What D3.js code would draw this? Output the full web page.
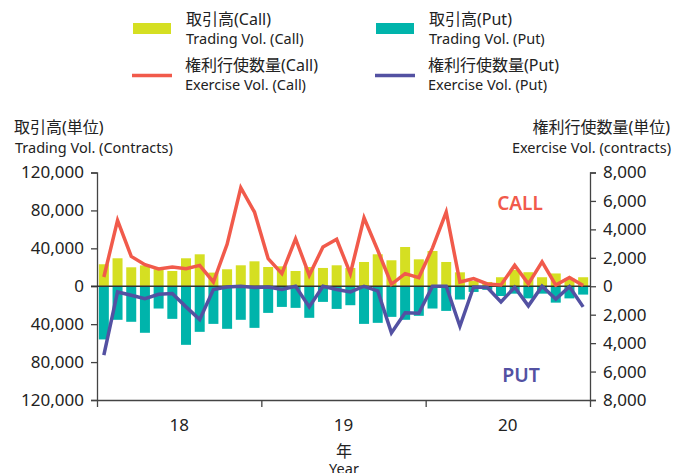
<!DOCTYPE html>
<html>
<head>
<meta charset="utf-8">
<script src="https://d3js.org/d3.v7.min.js"></script>
<style>
  body { margin: 0; background: #fff; }
  text { font-family: "Noto Sans", "Noto Sans CJK JP", sans-serif; fill: #222; }
</style>
</head>
<body>
<svg width="688" height="473"></svg>
<script>
// monthly data, Jan 2018 - Dec 2020
var months = [];
["2018", "2019", "2020"].forEach(function(y) {
  for (var m = 1; m <= 12; m++) months.push(y + "-" + (m < 10 ? "0" + m : m));
});
var years = ["18", "19", "20"];

var callVol = [23200, 29500, 20000, 22000, 18000, 16100, 29500, 33700, 14400, 17900, 22100, 26300,
  20300, 21000, 16100, 20300, 19300, 22100, 19300, 25600, 33700, 27400, 41400, 28400,
  37200, 25600, 14700, 5600, 4500, 9500, 17300, 14800, 9500, 13500, 8200, 9500];
var putVol = [56100, 35400, 37500, 49100, 23500, 34400, 61800, 48100, 39700, 44900, 35400, 43900,
  28100, 21800, 22800, 33300, 16500, 23900, 20000, 39700, 38600, 32300, 35400, 31200,
  23500, 26000, 14000, 6000, 3800, 10300, 7800, 12800, 7800, 17300, 12800, 8800];
var callEx = [650, 4630, 2100, 1520, 1220, 1360, 1240, 1470, 300, 2950, 6930, 5220,
  1940, 890, 3340, 770, 2760, 3300, 890, 4820, 2530, 140, 890, 610,
  2700, 5220, 300, 540, 160, 90, 1480, 170, 1710, 80, 620, 50];
var putEx = [4840, 400, 630, 870, 560, 510, 1450, 2340, 230, 50, 0, 90,
  50, 230, 0, 1450, 0, 230, 400, 0, 330, 3280, 1870, 1900,
  0, 0, 2810, 50, 90, 1100, 70, 1380, 0, 900, 30, 1450];

var volTicks = [-120000, -80000, -40000, 0, 40000, 80000, 120000];
var exTicks = [-8000, -6000, -4000, -2000, 0, 2000, 4000, 6000, 8000];

var colors = { callVol: "#d5df22", putVol: "#00b4ab", callEx: "#f15a4b", putEx: "#5351a2" };

var svg = d3.select("svg");
var plotL = 97, plotR = 590, plotT = 172.5, plotB = 400;

var x = d3.scaleBand().domain(months).range([plotL, plotR]).paddingInner(0.27).paddingOuter(0.135);
var xYear = d3.scaleBand().domain(years).range([plotL, plotR]);
var yVol = d3.scaleLinear().domain([-120000, 120000]).range([plotB, plotT]);
var yEx = d3.scaleLinear().domain([-8000, 8000]).range([plotB, plotT]);

// bars
svg.append("g").selectAll("rect")
  .data(callVol).enter().append("rect")
  .attr("x", function(d, i) { return x(months[i]); })
  .attr("width", x.bandwidth())
  .attr("y", function(d) { return yVol(d); })
  .attr("height", function(d) { return yVol(0) - yVol(d); })
  .attr("fill", colors.callVol);

svg.append("g").selectAll("rect")
  .data(putVol).enter().append("rect")
  .attr("x", function(d, i) { return x(months[i]); })
  .attr("width", x.bandwidth())
  .attr("y", yVol(0))
  .attr("height", function(d) { return yVol(-d) - yVol(0); })
  .attr("fill", colors.putVol);

// axes
var fmt = function(d) { return d3.format(",")(Math.abs(d)); };

var gl = svg.append("g").attr("transform", "translate(" + plotL + ",0)")
  .call(d3.axisLeft(yVol).tickValues(volTicks).tickFormat(fmt).tickSizeOuter(0).tickSize(6).tickPadding(7));
var gr = svg.append("g").attr("transform", "translate(" + plotR + ",0)")
  .call(d3.axisRight(yEx).tickValues(exTicks).tickFormat(fmt).tickSizeOuter(0).tickSize(6).tickPadding(7));
[gl, gr].forEach(function(g) {
  g.select(".domain").attr("stroke", "#444").attr("stroke-width", 1.3);
  g.selectAll(".tick line").attr("stroke", "#444").attr("stroke-width", 1.3);
  g.selectAll("text").style("font-size", "17px").style("font-family", null);
});

// bottom axis: boundary ticks + year labels
var xb = d3.scaleLinear().domain([0, 3]).range([plotL, plotR]);
var gb = svg.append("g").attr("transform", "translate(0," + plotB + ")")
  .call(d3.axisBottom(xb).tickValues([0, 1, 2, 3]).tickFormat("").tickSize(7).tickSizeOuter(0));
gb.select(".domain").attr("stroke", "#444").attr("stroke-width", 1.3);
gb.selectAll(".tick line").attr("stroke", "#444").attr("stroke-width", 1.3);

svg.append("g").selectAll("text")
  .data(years).enter().append("text")
  .attr("x", function(d) { return xYear(d) + xYear.bandwidth() / 2; })
  .attr("y", 431)
  .attr("text-anchor", "middle")
  .style("font-size", "17px")
  .text(function(d) { return d; });

// zero line
svg.append("line")
  .attr("x1", plotL - 6).attr("x2", plotR)
  .attr("y1", yVol(0)).attr("y2", yVol(0))
  .attr("stroke", "#333").attr("stroke-width", 1.6);

// exercise lines
var cx = function(i) { return x(months[i]) + x.bandwidth() / 2; };
var lineCall = d3.line().x(function(d, i) { return cx(i); }).y(function(d) { return yEx(d); });
var linePut = d3.line().x(function(d, i) { return cx(i); }).y(function(d) { return yEx(-d); });

svg.append("path").datum(callEx).attr("d", lineCall)
  .attr("fill", "none").attr("stroke", colors.callEx).attr("stroke-width", 3.5);
svg.append("path").datum(putEx).attr("d", linePut)
  .attr("fill", "none").attr("stroke", colors.putEx).attr("stroke-width", 3.5);

// CALL / PUT labels
svg.append("text").attr("x", 520).attr("y", 210).attr("text-anchor", "middle")
  .style("font-size", "19px").style("font-weight", 600).style("fill", colors.callEx).text("CALL");
svg.append("text").attr("x", 521).attr("y", 382).attr("text-anchor", "middle")
  .style("font-size", "19.5px").style("font-weight", 600).style("fill", colors.putEx).text("PUT");

// axis titles
svg.append("text").attr("x", 14).attr("y", 133).style("font-size", "16px").text("取引高(単位)");
svg.append("text").attr("x", 15).attr("y", 152.5).style("font-size", "14.5px").text("Trading Vol. (Contracts)");
svg.append("text").attr("x", 670).attr("y", 133).attr("text-anchor", "end").style("font-size", "16px").text("権利行使数量(単位)");
svg.append("text").attr("x", 671).attr("y", 152.5).attr("text-anchor", "end").style("font-size", "14.5px").text("Exercise Vol. (contracts)");

svg.append("text").attr("x", 344).attr("y", 457).attr("text-anchor", "middle").style("font-size", "16px").text("年");
svg.append("text").attr("x", 344).attr("y", 474).attr("text-anchor", "middle").style("font-size", "14.5px").text("Year");

// legend
var legend = [
  { x: 133, key: "callVol", type: "rect", jp: "取引高(Call)", en: "Trading Vol. (Call)", row: 0 },
  { x: 376, key: "putVol", type: "rect", jp: "取引高(Put)", en: "Trading Vol. (Put)", row: 0 },
  { x: 132, key: "callEx", type: "line", jp: "権利行使数量(Call)", en: "Exercise Vol. (Call)", row: 1 },
  { x: 375, key: "putEx", type: "line", jp: "権利行使数量(Put)", en: "Exercise Vol. (Put)", row: 1 }
];
var lg = svg.append("g").selectAll("g").data(legend).enter().append("g")
  .attr("transform", function(d) { return "translate(" + d.x + "," + (d.row * 46) + ")"; });
lg.filter(function(d) { return d.type == "rect"; }).append("rect")
  .attr("x", 0).attr("y", 23).attr("width", 38).attr("height", 11)
  .attr("fill", function(d) { return colors[d.key]; });
lg.filter(function(d) { return d.type == "line"; }).append("line")
  .attr("x1", 0).attr("x2", 40).attr("y1", 29.5).attr("y2", 29.5)
  .attr("stroke", function(d) { return colors[d.key]; }).attr("stroke-width", 3.5);
lg.append("text").attr("x", 53).attr("y", 25).style("font-size", "16px").text(function(d) { return d.jp; });
lg.append("text").attr("x", 53).attr("y", 43.5).style("font-size", "14.5px").text(function(d) { return d.en; });
</script>
</body>
</html>
